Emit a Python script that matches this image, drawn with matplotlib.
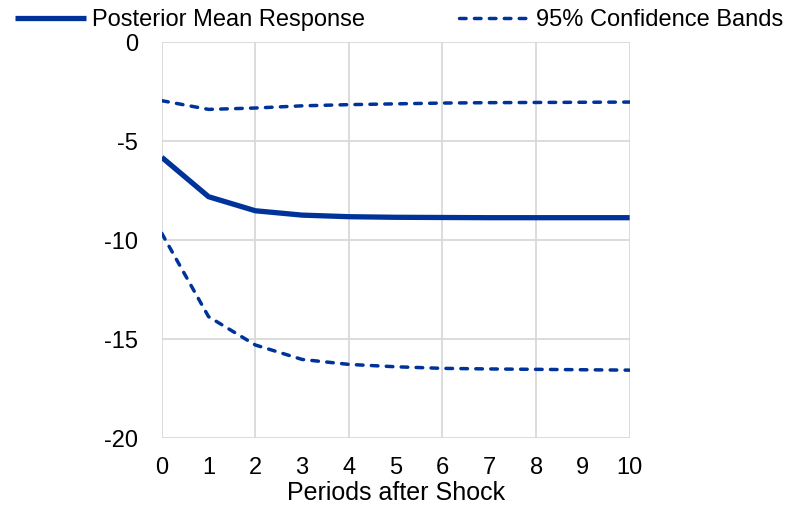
import matplotlib.pyplot as plt

plt.rcParams['font.family'] = ['Liberation Sans', 'DejaVu Sans']
plt.rcParams['axes.unicode_minus'] = False

# Data
periods = [0, 1, 2, 3, 4, 5, 6, 7, 8, 9, 10]
mean_resp = [-5.82, -7.81, -8.52, -8.74, -8.82, -8.85, -8.86, -8.87, -8.87, -8.87, -8.87]
upper_band = [-2.96, -3.40, -3.33, -3.22, -3.16, -3.12, -3.08, -3.06, -3.05, -3.04, -3.03]
lower_band = [-9.66, -13.87, -15.30, -16.03, -16.28, -16.40, -16.48, -16.51, -16.53, -16.55, -16.57]

blue = '#003399'
grid_col = '#d9d9d9'

fig = plt.figure(figsize=(7.93, 5.07), dpi=100)
ax = fig.add_axes([0.204, 0.136, 0.59, 0.781])

ax.plot(periods, mean_resp, color=blue, lw=3.8, solid_capstyle='butt',
        label='Posterior Mean Response')
ax.plot(periods, upper_band, color=blue, lw=2.5, dashes=(1.9, 2.4),
        dash_capstyle='round', label='95% Confidence Bands')
ax.plot(periods, lower_band, color=blue, lw=2.5, dashes=(1.9, 2.4),
        dash_capstyle='round')

ax.set_xlim(0, 10)
ax.set_ylim(-20, 0)
ax.set_xticks(range(0, 11))
ax.set_yticks([-20, -15, -10, -5, 0])

# gridlines every 2 periods on x, every 5 on y
for gx in range(0, 11, 2):
    ax.axvline(gx, color=grid_col, lw=1.3, zorder=0)
for gy in [-20, -15, -10, -5, 0]:
    ax.axhline(gy, color=grid_col, lw=1.3, zorder=0)

for s in ax.spines.values():
    s.set_visible(False)

ax.tick_params(length=0, labelsize=17, colors='black')
ax.tick_params(axis='x', pad=14)
ax.tick_params(axis='y', pad=17)
ax.set_xlabel('Periods after Shock', fontsize=18, labelpad=1)

fig.legend(loc='upper center', bbox_to_anchor=(0.503, 1.01), ncol=2,
           frameon=False, fontsize=17, handlelength=3.0, handletextpad=0.25,
           columnspacing=4.0, borderaxespad=0.2)

fig.savefig('out.png', dpi=100)
